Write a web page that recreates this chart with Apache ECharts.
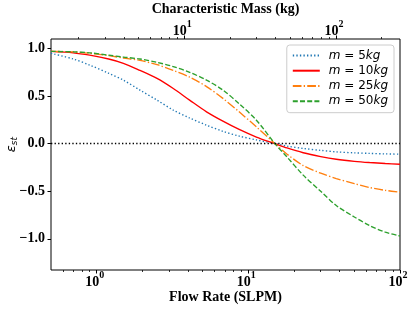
<!DOCTYPE html>
<html><head><meta charset="utf-8">
<script src="https://cdn.jsdelivr.net/npm/echarts@6/dist/echarts.min.js"></script>
<style>html,body{margin:0;padding:0;background:#fff}#c{width:416px;height:313px}</style>
</head><body><div id="c"></div>
<script>
// ---- data ----
const flowRate = [0.5, 0.7, 0.9, 1.2, 1.5, 1.93, 2.5, 3.2, 4.1, 5.3, 6.8, 8.7, 11.3, 15, 18, 23, 30, 38, 50, 63, 80, 100];
const eps5  = [0.95, 0.89, 0.826, 0.74, 0.668, 0.563, 0.458, 0.353, 0.27, 0.195, 0.13, 0.08, 0.04, 0.0, -0.025, -0.05, -0.07, -0.086, -0.096, -0.102, -0.107, -0.11];
const eps10 = [0.97, 0.955, 0.93, 0.89, 0.845, 0.77, 0.686, 0.58, 0.458, 0.335, 0.237, 0.15, 0.07, 0.0, -0.045, -0.095, -0.135, -0.163, -0.185, -0.198, -0.208, -0.216];
const eps25 = [0.97, 0.965, 0.95, 0.925, 0.90, 0.875, 0.83, 0.77, 0.70, 0.60, 0.476, 0.335, 0.177, 0.0, -0.11, -0.23, -0.31, -0.366, -0.42, -0.46, -0.49, -0.51];
const eps50 = [0.97, 0.965, 0.955, 0.93, 0.91, 0.89, 0.855, 0.81, 0.75, 0.668, 0.563, 0.42, 0.247, 0.0, -0.14, -0.33, -0.50, -0.65, -0.77, -0.86, -0.93, -0.97];
const seriesNames = ['m = 5kg', 'm = 10kg', 'm = 25kg', 'm = 50kg'];
const yTicks = [-1.0, -0.5, 0.0, 0.5, 1.0];
const flowMajorTicks = [1, 10, 100];
const flowMinorTicks = [0.6, 0.7, 0.8, 0.9, 2, 3, 4, 5, 6, 7, 8, 9, 20, 30, 40, 50, 60, 70, 80, 90];
const massMajorTicks = [10, 100];
const massMinorTicks = [2, 3, 4, 5, 6, 7, 8, 9, 20, 30, 40, 50, 60, 70, 80, 90, 200];
const flowRange = [0.5, 100];
const massRange = [1.3225, 264.5];
const yRange = [-1.327, 1.10];

const SERIF = 'Liberation Serif';
const colors = ['#1f77b4', '#ff0000', '#ff7f0e', '#2ca02c'];
const dashes = [[1.35, 2.2], 'solid', [8.7, 2.2, 1.35, 2.2], [5, 2.2]];
const values = [eps5, eps10, eps25, eps50];

const powRich = {
  b: {fontFamily: SERIF, fontWeight: 'bold', fontSize: 14, lineHeight: 24, color: '#000'},
  s: {fontFamily: SERIF, fontWeight: 'bold', fontSize: 10, lineHeight: 10, verticalAlign: 'top', color: '#000', padding: [0, 4, 0, 0]}
};
const powFmt = v => '{b|10}{s|' + Math.round(Math.log10(v)) + '}';

function logAxis(opts) {
  return Object.assign({
    type: 'log', logBase: 10, gridIndex: 0,
    axisLine: {show: false, onZero: false},
    splitLine: {show: false},
    minorTick: {show: false},
    minorSplitLine: {show: false},
    nameMoveOverlap: false
  }, opts);
}

const chart = echarts.init(document.getElementById('c'), null, {renderer: 'canvas'});
chart.setOption({
  animation: false,
  grid: {left: 51, right: 16, top: 39, bottom: 43, containLabel: false, outerBoundsMode: 'none',
    show: true, borderColor: '#000', borderWidth: 1, backgroundColor: 'transparent'},
  xAxis: [
    logAxis({position: 'bottom', min: flowRange[0], max: flowRange[1],
      name: 'Flow Rate (SLPM)', nameLocation: 'middle', nameGap: 20,
      nameTextStyle: {fontFamily: SERIF, fontWeight: 'bold', fontSize: 14, color: '#000'},
      axisTick: {show: true, length: 3.5, inside: false, customValues: flowMajorTicks, lineStyle: {color: '#000', width: 1}},
      axisLabel: {show: true, margin: 0, customValues: flowMajorTicks, formatter: powFmt, rich: powRich}
    }),
    logAxis({position: 'bottom', min: flowRange[0], max: flowRange[1],
      axisTick: {show: true, length: 2, inside: false, customValues: flowMinorTicks, lineStyle: {color: '#000', width: 0.8}},
      axisLabel: {show: false}
    }),
    logAxis({position: 'top', min: massRange[0], max: massRange[1],
      name: 'Characteristic Mass (kg)', nameLocation: 'middle', nameGap: 23,
      nameTextStyle: {fontFamily: SERIF, fontWeight: 'bold', fontSize: 14, color: '#000'},
      axisTick: {show: true, length: 3.5, inside: false, customValues: massMajorTicks, lineStyle: {color: '#000', width: 1}},
      axisLabel: {show: true, margin: -4, customValues: massMajorTicks, formatter: powFmt, rich: powRich}
    }),
    logAxis({position: 'top', min: massRange[0], max: massRange[1],
      axisTick: {show: true, length: 2, inside: false, customValues: massMinorTicks, lineStyle: {color: '#000', width: 0.8}},
      axisLabel: {show: false}
    })
  ],
  yAxis: {
    type: 'value', min: yRange[0], max: yRange[1],
    axisLine: {show: false},
    splitLine: {show: false},
    axisTick: {show: true, length: 3.5, customValues: yTicks, lineStyle: {color: '#000', width: 1}},
    axisLabel: {show: true, margin: 6, customValues: yTicks,
      formatter: v => v.toFixed(1).replace('-', '\u2212'),
      fontFamily: SERIF, fontWeight: 'bold', fontSize: 14, color: '#000'}
  },
  legend: {
    orient: 'vertical', right: 22, top: 45,
    backgroundColor: 'rgba(255,255,255,0.8)', borderColor: '#cccccc', borderWidth: 1, borderRadius: 3,
    padding: [3, 6, 4, 5], itemWidth: 27, itemHeight: 10, itemGap: 0.5,
    itemStyle: {opacity: 0},
    data: seriesNames,
    formatter: name => {
      const num = name.match(/(\d+)/)[1];
      return '{i|m} = ' + num + '{i|kg}';
    },
    textStyle: {fontFamily: 'DejaVu Sans', fontSize: 12, lineHeight: 14.8, color: '#000', padding: [0, 0, 0, 4],
      rich: {i: {fontFamily: 'DejaVu Sans', fontStyle: 'italic', fontSize: 12, lineHeight: 14.8, color: '#000'}}}
  },
  graphic: [{
    type: 'text', left: 5, top: 137, rotation: Math.PI / 2,
    style: {
      text: '{e|\u03b5}{s|st}',
      rich: {
        e: {fontFamily: 'DejaVu Sans', fontStyle: 'italic', fontSize: 13, lineHeight: 16, fill: '#000'},
        s: {fontFamily: 'DejaVu Sans', fontStyle: 'italic', fontSize: 9, lineHeight: 9, verticalAlign: 'bottom', fill: '#000'}
      }
    }
  }],
  series: values.map((vals, i) => ({
    name: seriesNames[i], type: 'line', xAxisIndex: 0, yAxisIndex: 0,
    data: flowRate.map((q, k) => [q, vals[k]]),
    symbol: 'none', smooth: 0.3,
    lineStyle: {color: colors[i], width: 1.35, type: dashes[i]},
    itemStyle: {color: colors[i]},
    markLine: i === 0 ? {
      silent: true, symbol: 'none', label: {show: false},
      lineStyle: {color: '#000', width: 1.35, type: [1.35, 2.2]},
      data: [{yAxis: 0}]
    } : undefined
  }))
});
</script></body></html>
